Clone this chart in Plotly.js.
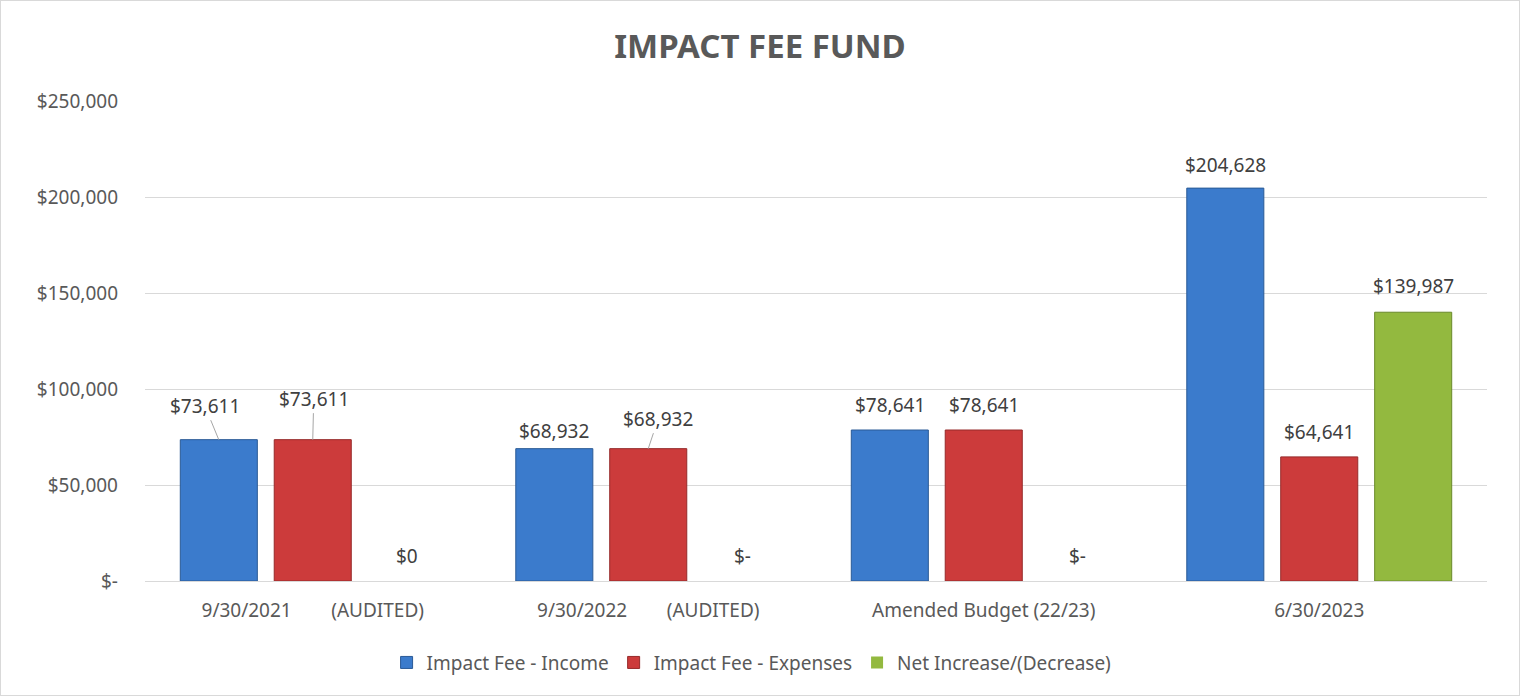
<!DOCTYPE html>
<html>
<head>
<meta charset="utf-8">
<script src="https://cdn.plot.ly/plotly-3.0.1.min.js"></script>
<style>
  html, body { margin: 0; padding: 0; background: #fff; }
  #chart { width: 1518px; height: 694px; border: 1px solid #d9d9d9; }
</style>
</head>
<body>
<div id="chart"></div>
<script>
var categories = ["9/30/2021\u00a0\u00a0\u00a0\u00a0\u00a0\u00a0\u00a0\u00a0(AUDITED)",
                  "9/30/2022\u00a0\u00a0\u00a0\u00a0\u00a0\u00a0\u00a0\u00a0(AUDITED)",
                  "Amended Budget (22/23)",
                  "6/30/2023"];
var seriesNames = ["Impact Fee - Income", "Impact Fee - Expenses", "Net Increase/(Decrease)"];
var income   = [73611, 68932, 78641, 204628];
var expenses = [73611, 68932, 78641, 64641];
var net      = [0, 0, 0, 139987];
var netLabels = ["$0", "$-", "$-", "$139,987"];
var tickVals = [0, 50000, 100000, 150000, 200000, 250000];
var tickText = ["$-", "$50,000", "$100,000", "$150,000", "$200,000", "$250,000"];

function money(v) { return "$" + v.toLocaleString("en-US"); }

var FONT = "Noto Sans, Open Sans, sans-serif";
var colors = ["#3b7bcc", "#cc3b3b", "#93b93f"];
var lineColors = ["#2a5a96", "#962a2a", "#6a8a2a"];
var seriesVals = [income, expenses, net];

var traces = seriesVals.map(function (vals, i) {
  return {
    type: "bar",
    name: seriesNames[i],
    x: categories,
    y: vals,
    marker: { color: colors[i],
              line: { color: lineColors[i], width: vals.map(function (v) { return v > 0 ? 1 : 0; }) } },
    hoverinfo: "x+y"
  };
});

// label placement styles per category / series: [yshift, ax, ay, leader]
var offsets = [-94, 0, 94];
var placement = [
  [[0, -14, -34, true], [0, 1, -41, true], [25, 0, 0, false]],
  [[18, 0, 0, false], [0, 10, -30, true], [25, 0, 0, false]],
  [[25, 0, 0, false], [25, 0, 0, false], [25, 0, 0, false]],
  [[23, 0, 0, false], [25, 0, 0, false], [26, 0, 0, false]]
];

var annotations = [];
seriesVals.forEach(function (vals, s) {
  vals.forEach(function (v, c) {
    var p = placement[c][s];
    var txt = s === 2 ? netLabels[c] : money(v);
    var a = {
      x: categories[c], y: v, xref: "x", yref: "y",
      text: txt,
      xshift: offsets[s],
      font: { family: FONT, size: 19, color: "#404040" }
    };
    if (p[3]) {
      a.showarrow = true; a.arrowhead = 0; a.arrowwidth = 1; a.arrowcolor = "#a6a6a6";
      a.ax = p[1]; a.ay = p[2]; a.standoff = 0;
    } else {
      a.showarrow = false; a.yshift = p[0]; a.yanchor = "middle";
    }
    annotations.push(a);
  });
});

var layout = {
  width: 1518, height: 694,
  margin: { l: 144, r: 32, t: 100, b: 114 },
  paper_bgcolor: "#ffffff", plot_bgcolor: "#ffffff",
  font: { family: FONT, size: 19, color: "#595959" },
  title: { text: "<b>IMPACT FEE FUND</b>", x: 0.5, xanchor: "center", y: 0.935, yanchor: "middle",
           font: { size: 33, color: "#595959", family: FONT } },
  barmode: "group", bargap: 0.16, bargroupgap: 0.18,
  xaxis: { type: "category", showgrid: false, showline: true, linecolor: "#d9d9d9", linewidth: 1,
           ticks: "", ticklabelstandoff: 12, tickfont: { size: 19, color: "#595959" }, fixedrange: true },
  yaxis: { range: [0, 250000], tickvals: tickVals, ticktext: tickText, showgrid: true,
           gridcolor: "#d9d9d9", gridwidth: 1, zeroline: false, showline: false, ticks: "",
           ticklabelstandoff: 26,
           tickfont: { size: 19, color: "#595959" }, fixedrange: true },
  legend: { orientation: "h", x: 0.452, xanchor: "center", y: -0.17, yanchor: "middle",
            font: { size: 19, color: "#595959" }, itemwidth: 30, tracegroupgap: 0 },
  annotations: annotations,
  showlegend: true
};

Plotly.newPlot("chart", traces, layout, { displayModeBar: false, staticPlot: true });
</script>
</body>
</html>
